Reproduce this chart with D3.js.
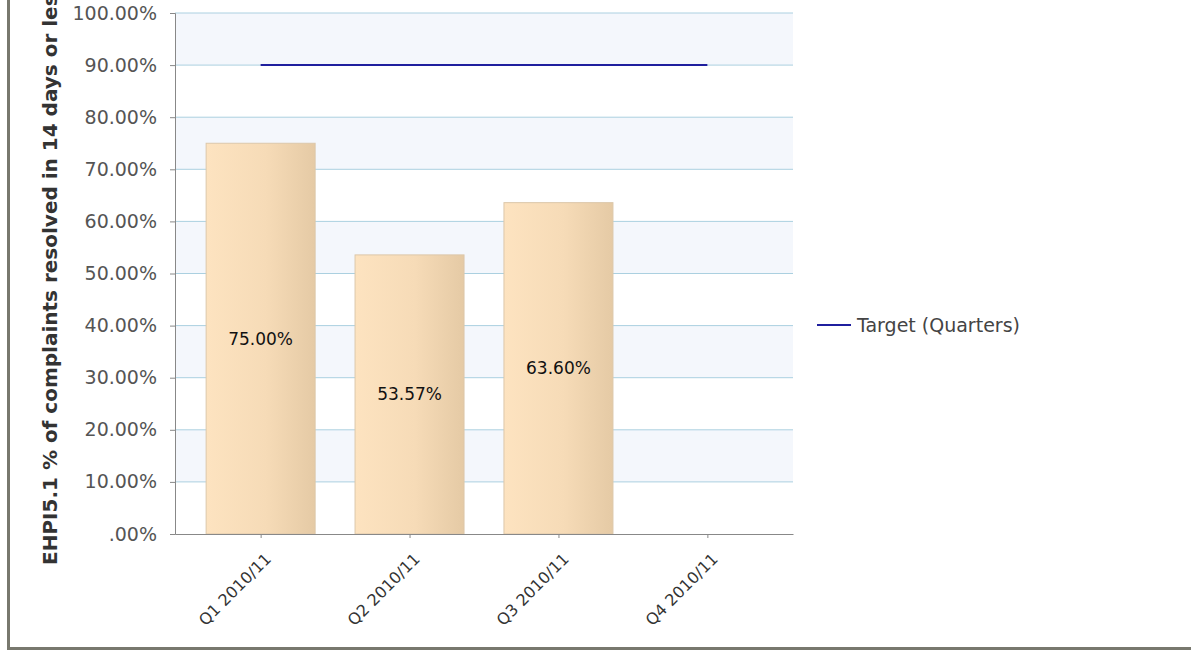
<!DOCTYPE html>
<html>
<head>
<meta charset="utf-8">
<script src="https://cdnjs.cloudflare.com/ajax/libs/d3/7.8.5/d3.min.js"></script>
<style>
  body { margin: 0; background: #fff; }
  svg { display: block; }
</style>
</head>
<body>
<script>
// data
var quarters = ["Q1 2010/11", "Q2 2010/11", "Q3 2010/11", "Q4 2010/11"];
var actual = [75.00, 53.57, 63.60, null];
var target = [90, 90, 90, 90];
var yTicks = [0, 10, 20, 30, 40, 50, 60, 70, 80, 90, 100];
var yTitle = "EHPI5.1 % of complaints resolved in 14 days or less";
var legendLabel = "Target (Quarters)";

var W = 1191, H = 651;
var plot = {left: 175, right: 793, top: 13, bottom: 534};

var svg = d3.select("body").append("svg")
  .attr("width", W).attr("height", H);

var defs = svg.append("defs");
var grad = defs.append("linearGradient").attr("id", "barGrad")
  .attr("x1", "0%").attr("x2", "100%").attr("y1", "0%").attr("y2", "0%");
grad.append("stop").attr("offset", "0%").attr("stop-color", "#fde3c0");
grad.append("stop").attr("offset", "55%").attr("stop-color", "#f6dbb7");
grad.append("stop").attr("offset", "100%").attr("stop-color", "#e5caa5");

var x = d3.scalePoint()
  .domain(quarters)
  .range([plot.left, plot.right])
  .padding(0.575);

var y = d3.scaleLinear()
  .domain([0, 100])
  .range([plot.bottom, plot.top]);

var barW = 109;
var fmt = function(v){ return d3.format(".2f")(v).replace(/^0/, "") + "%"; };
var font = "Tahoma, 'DejaVu Sans', sans-serif";

// alternating bands (100-90, 80-70, ...)
var g = svg.append("g");
g.selectAll("rect.band")
  .data(yTicks.filter(function(d){ return d > 0 && d % 20 === 0; }))
  .enter().append("rect")
  .attr("class", "band")
  .attr("x", plot.left)
  .attr("width", plot.right - plot.left)
  .attr("y", function(d){ return y(d); })
  .attr("height", function(d){ return y(d - 10) - y(d); })
  .attr("fill", "#f4f7fc");

// gridlines
g.selectAll("line.grid")
  .data(yTicks.filter(function(d){ return d > 0; }))
  .enter().append("line")
  .attr("x1", plot.left).attr("x2", plot.right)
  .attr("y1", function(d){ return y(d); })
  .attr("y2", function(d){ return y(d); })
  .attr("stroke", "#abd0e0").attr("stroke-width", 1);

// bars
var bars = quarters.map(function(q, i){ return {q: q, v: actual[i]}; })
  .filter(function(d){ return d.v != null; });

g.selectAll("rect.bar")
  .data(bars)
  .enter().append("rect")
  .attr("x", function(d){ return x(d.q) - barW / 2; })
  .attr("width", barW)
  .attr("y", function(d){ return y(d.v); })
  .attr("height", function(d){ return y(0) - y(d.v); })
  .attr("fill", "url(#barGrad)")
  .attr("stroke", "#dcc7aa").attr("stroke-width", 1);

// data labels
g.selectAll("text.lbl")
  .data(bars)
  .enter().append("text")
  .attr("x", function(d){ return x(d.q); })
  .attr("y", function(d){ return y(d.v / 2); })
  .attr("dy", "0.35em")
  .attr("text-anchor", "middle")
  .style("font-family", font)
  .style("font-size", "17px")
  .attr("fill", "#111")
  .text(function(d){ return fmt(d.v); });

// target line
var line = d3.line()
  .x(function(d){ return x(d.q); })
  .y(function(d){ return y(d.v); });

g.append("path")
  .datum(quarters.map(function(q, i){ return {q: q, v: target[i]}; }))
  .attr("d", line)
  .attr("fill", "none")
  .attr("stroke", "#1f1f9e")
  .attr("stroke-width", 2);

// y axis
var yAxis = d3.axisLeft(y)
  .tickValues(yTicks)
  .tickSize(5)
  .tickPadding(13)
  .tickFormat(fmt);

var ya = svg.append("g")
  .attr("transform", "translate(" + plot.left + ",0)")
  .call(yAxis);
ya.select(".domain").attr("stroke", "#888");
ya.selectAll(".tick line").attr("stroke", "#888");
ya.selectAll(".tick text")
  .style("font-family", font)
  .style("font-size", "19px")
  .attr("fill", "#555");

// x axis
var xAxis = d3.axisBottom(x).tickSize(4).tickSizeOuter(0);
var xa = svg.append("g")
  .attr("transform", "translate(0," + plot.bottom + ")")
  .call(xAxis);
xa.select(".domain").attr("stroke", "#888");
xa.selectAll(".tick line").attr("stroke", "#888");
xa.selectAll(".tick text")
  .style("font-family", font)
  .style("font-size", "16px")
  .attr("fill", "#333")
  .attr("text-anchor", "end")
  .attr("transform", "translate(7,22) rotate(-45)")
  .attr("dy", "0.35em")
  .attr("y", 0)
  .attr("x", 0);

// y title
svg.append("text")
  .attr("transform", "translate(57,565) rotate(-90)")
  .attr("text-anchor", "start")
  .style("font-family", "Verdana, 'DejaVu Sans', sans-serif")
  .style("font-size", "20px")
  .style("font-weight", "bold")
  .attr("fill", "#333")
  .text(yTitle);

// legend
var lg = svg.append("g").attr("transform", "translate(817,325)");
lg.append("line").attr("x1", 0).attr("x2", 34).attr("y1", 0).attr("y2", 0)
  .attr("stroke", "#1f1f9e").attr("stroke-width", 2);
lg.append("text").attr("x", 40).attr("y", 0).attr("dy", "0.35em")
  .style("font-family", font)
  .style("font-size", "19px")
  .attr("fill", "#444")
  .text(legendLabel);

// frame
svg.append("line").attr("x1", 8.5).attr("x2", 8.5).attr("y1", 0).attr("y2", 650)
  .attr("stroke", "#78786e").attr("stroke-width", 3);
svg.append("line").attr("x1", 7).attr("x2", W).attr("y1", 648.5).attr("y2", 648.5)
  .attr("stroke", "#78786e").attr("stroke-width", 3);
</script>
</body>
</html>
